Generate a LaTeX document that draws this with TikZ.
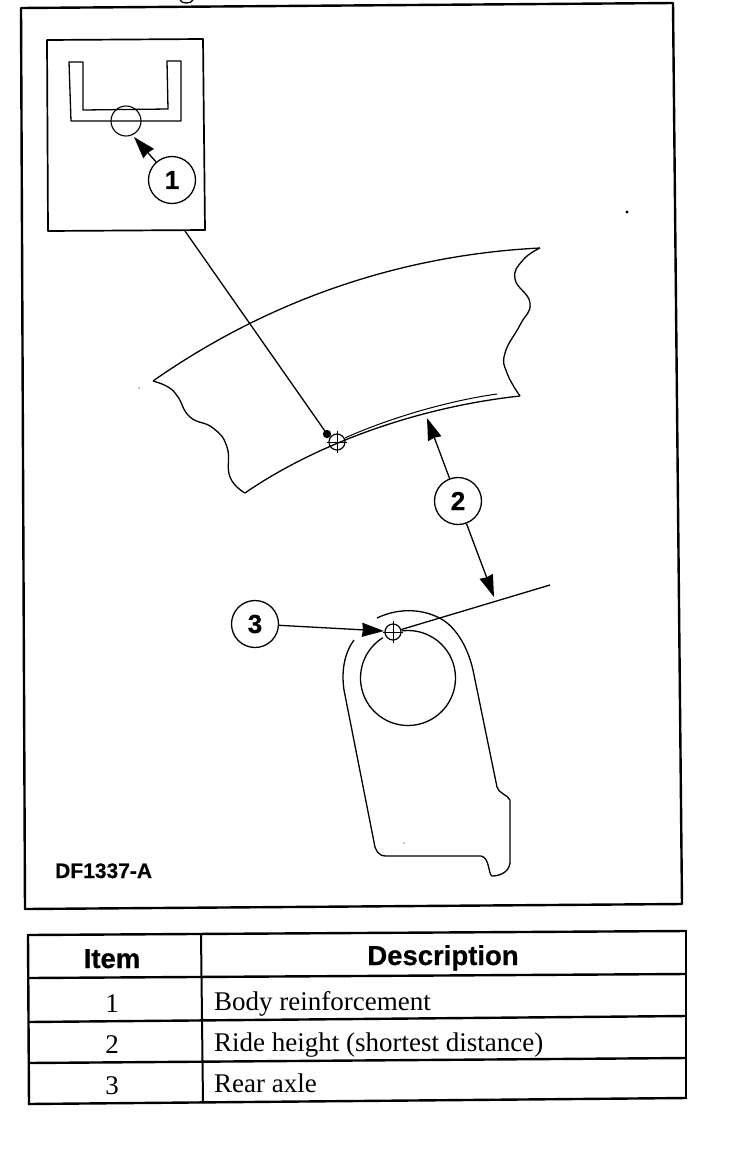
\documentclass[tikz,border=0pt]{standalone}
\usepackage{fontspec}
\setmainfont{Liberation Serif}
\newfontfamily\headfont[FakeBold=.6]{Liberation Sans Bold}
\usetikzlibrary{arrows.meta}

\begin{document}
\begin{tikzpicture}
	[
		x=1pt, y=-1pt,
		line join=round,
		frameline/.style={line width=2.4pt},
		partline/.style={line width=1.3pt},
		thinline/.style={line width=1pt},
		bubble/.style={circle, draw, line width=1.3pt, fill=white, minimum size=47pt, inner sep=0pt, font=\headfont\fontsize{26}{26}\selectfont},
		ring/.style={circle, draw, line width=1.2pt, minimum size=16pt, inner sep=0pt},
		leader/.style={line width=1.3pt, -{Stealth[length=22pt, width=14pt, inset=1pt]}},
		itemtext/.style={font=\fontsize{27}{27}\selectfont, anchor=base},
		desctext/.style={font=\fontsize{27}{27}\selectfont, anchor=base west},
		headtext/.style={font=\headfont\fontsize{27.5}{27.5}\selectfont, anchor=base},
	]
	\useasboundingbox (0,0) rectangle (736,1176);

	% Frame
	\draw[frameline] (21,8) -- (673,3) -- (682,904) -- (25,909) -- cycle;
	\draw[partline] (180,0) .. controls (182,4) and (191,4) .. (193,0);

	% Inset
	\draw[frameline, line width=1.7pt] (47,40) -- (203,39) -- (205,230) -- (48,231) -- cycle;
	\draw[partline] (69,62) -- (83,62) -- (83,110) -- (168,109) -- (167,61) -- (181,61) -- (181,121) -- (71,121) -- cycle;
	\node[circle, draw, line width=1.1pt, minimum size=30pt, inner sep=0pt] (detail) at (126,121) {};

	% Body
	\draw[partline] (153,381) .. controls (250,313) and (380,256) .. (540,248);
	\draw[partline] plot[smooth, tension=.8] coordinates {(540,248) (523,260) (515,279) (530,303) (520,325) (505,353) (507,373) (520,396)};
	\draw[partline] (520,396) .. controls (410,408) and (310,448) .. (245,493);
	\draw[partline] plot[smooth, tension=.8] coordinates {(245,493) (230,477) (227,447) (213,428) (190,417) (178,397) (168,387) (153,381)};
	\draw[thinline] (345,438) .. controls (380,422) and (440,402) .. (497,394);

	% Axle bracket
	\draw[partline] (408,678) ++(263:47.5) arc[start angle=263, end angle=598, radius=47.5];
	\draw[partline] (377,618) .. controls (400,607) and (425,609) .. (443,620) .. controls (457,629) and (468,648) .. (473,670)
		-- (497,787) .. controls (498,793) and (508,795) .. (510,800) -- (510,863)
		.. controls (509,872) and (500,876) .. (492,876) .. controls (488,874) and (490,858) .. (481,856)
		-- (386,856) .. controls (378,856) and (375,850) .. (374,842) -- (344,690)
		.. controls (341,670) and (345,652) .. (354,640);

	% Specks
	\foreach \x/\y/\size in {627/212/1.7, 404/843/.6, 139/388/.6}
		\fill (\x,\y) circle (\size);

	% Targets
	\foreach \name/\x/\y in {bodymark/337/442, axlemark/393/632}
	{
		\node[ring] (\name) at (\x,\y) {};
		\draw[thinline] (\name) ++(-10,0) -- ++(20,0) (\name) ++(0,-11) -- ++(0,22);
	}
	\fill (327,434) circle (4.2);

	% Callouts
	\foreach \name/\x/\y/\text in {one/172/180/1, two/458/501/2, three/255/624/3}
		\node[bubble] (\name) at (\x,\y) {\text};

	\coordinate (detailtip) at (134,137);
	\coordinate (insetfoot) at (185,231);
	\coordinate (bodydot) at (327,434);
	\coordinate (bodytip) at (427,418);
	\coordinate (axletip) at (494,597);
	\coordinate (axlepoint) at (384,631);
	\coordinate (axleend) at (550,585);

	\draw[leader] (one) -- (detailtip);
	\draw[leader] (two) -- (bodytip);
	\draw[leader] (two) -- (axletip);
	\draw[leader] (three) -- (axlepoint);
	\draw[partline] (insetfoot) -- (bodydot);
	\draw[partline] (axlemark) -- (axleend);

	\node[font=\headfont\fontsize{21}{21}\selectfont, anchor=base west, inner sep=0pt] (figid) at (55,878) {DF1337-A};

	% Table
	\foreach \ya/\yb in {935/931, 978/974, 1022/1016, 1063/1058, 1104/1098}
		\draw[frameline] (28,\ya) -- (686,\yb);
	\draw[frameline] (28,934) -- (29,1105);
	\draw[frameline] (686,930) -- (686,1099);
	\draw[frameline, line width=2pt] (201,934) -- (203,1103);

	\node[headtext] (itemhead) at (112,968) {Item};
	\node[headtext] (deschead) at (443,965) {Description};
	\foreach \name/\y/\num/\text in
	{
		bodyrow/1010/1/Body reinforcement,
		riderow/1051/2/Ride height (shortest distance),
		axlerow/1092/3/Rear axle
	}
	{
		\node[itemtext] (\name num) at (112,\y+2) {\num};
		\node[desctext, inner sep=0pt] (\name) at (214,\y) {\text};
	}
\end{tikzpicture}
\end{document}
